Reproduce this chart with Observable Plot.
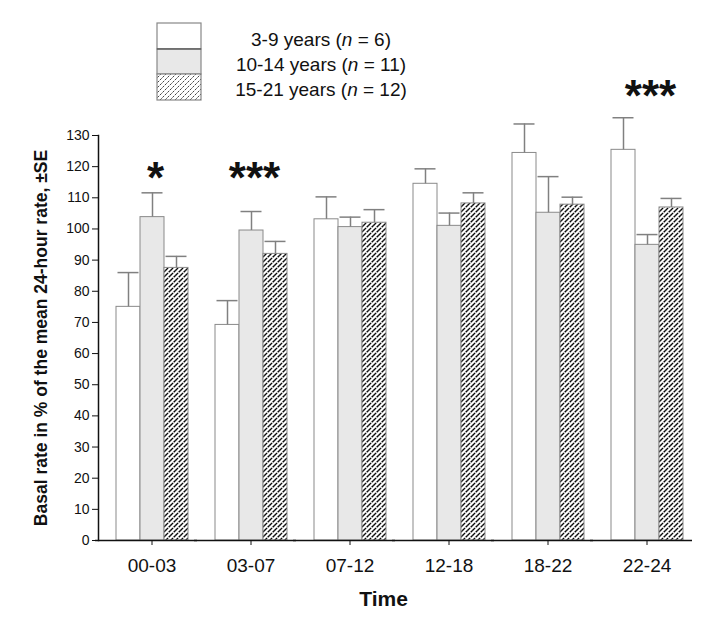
<!DOCTYPE html>
<html>
<head>
<meta charset="utf-8">
<script src="https://cdn.jsdelivr.net/npm/d3@7"></script>
<script src="https://cdn.jsdelivr.net/npm/@observablehq/plot@0.6"></script>
<style>
  body { margin: 0; background: #fff; }
  #wrap { position: relative; width: 724px; height: 623px; font-family: "Liberation Sans", Arial, sans-serif; }
  #chart { position: absolute; left: 0; top: 0; }
  #legend { position: absolute; left: 0; top: 0; }
  #chart g[aria-label="y-axis label"] text { font-weight: bold; font-size: 17.5px; }
  #chart g[aria-label="fx-axis label"] text { font-weight: bold; font-size: 21px; translate: -12px 0; }
  #chart g[aria-label="stars"] text { letter-spacing: 7px; }
</style>
</head>
<body>
<div id="wrap">
  <div id="chart"></div>
  <svg id="legend" width="724" height="110">
    <defs>
      <pattern id="hatch" patternUnits="userSpaceOnUse" width="5" height="5">
        <rect width="5" height="5" fill="#ffffff"></rect>
        <path d="M-1,1 l2,-2 M0,5 l5,-5 M4,6 l2,-2" stroke="#0a0a0a" stroke-width="1.4" stroke-dasharray="3 0.8"></path>
      </pattern>
      <pattern id="hatchLight" patternUnits="userSpaceOnUse" width="5" height="5">
        <rect width="5" height="5" fill="#ffffff"></rect>
        <path d="M-1,1 l2,-2 M0,5 l5,-5 M4,6 l2,-2" stroke="#444" stroke-width="1" stroke-dasharray="2.4 1"></path>
      </pattern>
    </defs>
  </svg>
</div>
<script>
// ---- data ----
const times = ["00-03", "03-07", "07-12", "12-18", "18-22", "22-24"];
const groups = ["3-9 years", "10-14 years", "15-21 years"];
const groupN = [6, 11, 12];

const mean39   = [75.0, 69.2, 103.1, 114.5, 124.4, 125.4];
const se39     = [11.0,  7.8,   7.2,   4.8,   9.3,  10.3];
const mean1014 = [103.8, 99.5, 100.6, 101.0, 105.2, 94.9];
const se1014   = [  7.8,  6.1,   3.2,   4.1,  11.6,  3.3];
const mean1521 = [87.5, 92.0, 102.0, 108.2, 107.8, 106.9];
const se1521   = [ 3.7,  4.0,   4.2,   3.4,   2.4,   2.9];

const yTicks = [0, 10, 20, 30, 40, 50, 60, 70, 80, 90, 100, 110, 120, 130];

const starTimes  = ["00-03", "03-07", "22-24"];
const starLabels = ["*", "***", "***"];
const starY      = [116, 116, 142.5];

const yTitle = "Basal rate in % of the mean 24-hour rate, ±SE";
const xTitle = "Time";

// ---- tables ----
const means = [mean39, mean1014, mean1521];
const ses = [se39, se1014, se1521];
const rows = [];
times.forEach((t, i) => {
  groups.forEach((g, k) => rows.push({time: t, group: g, value: means[k][i], se: ses[k][i]}));
});
const stars = starTimes.map((t, i) => ({time: t, label: starLabels[i], y: starY[i]}));

const chart = Plot.plot({
  width: 724,
  height: 623,
  marginLeft: 97,
  marginRight: 31,
  marginTop: 135,
  marginBottom: 83,
  style: {fontFamily: "'Liberation Sans', Arial, sans-serif", color: "#111"},
  fx: {domain: times, padding: 0, axis: null},
  x: {domain: groups, paddingInner: 0, paddingOuter: 0.535, align: 0.654, axis: null},
  y: {domain: [0, 130], axis: null},
  color: {domain: groups, range: ["#ffffff", "#e8e8e8", "url(#hatch)"]},
  marks: [
    Plot.barY(rows, {fx: "time", x: "group", y: "value", fill: "group", stroke: "#8a8a8a", strokeWidth: 1}),
    Plot.ruleX(rows, {fx: "time", x: "group", y1: "value", y2: d => d.value + d.se, stroke: "#808080", strokeWidth: 1.5}),
    Plot.tickY(rows, {fx: "time", x: "group", y: d => d.value + d.se, stroke: "#808080", strokeWidth: 1.5, insetLeft: 1.5, insetRight: 1.5}),
    Plot.ruleY([0], {stroke: "#111", strokeWidth: 1.5, insetLeft: -3}),
    Plot.frame({anchor: "left", facetAnchor: "left", stroke: "#111", strokeWidth: 1.5}),
    Plot.axisY({ticks: yTicks, tickSize: 6, tickPadding: 3, fontSize: 14, color: "#111",
      label: yTitle, labelAnchor: "center", labelOffset: 64, labelArrow: "none"}),
    Plot.axisFx({anchor: "bottom", tickSize: 5, tickPadding: 13, fontSize: 19, dx: 4, color: "#111",
      label: xTitle, labelAnchor: "center", labelOffset: 65, labelArrow: "none"}),
    Plot.text(stars, {fx: "time", y: "y", text: "label", fontSize: 44, fontWeight: "bold", dx: 7.5, fill: "#111", ariaLabel: "stars"})
  ]
});
document.getElementById("chart").appendChild(chart);

// ---- legend ----
const leg = d3.select("#legend");
const swatchFill = ["#ffffff", "#e8e8e8", "url(#hatchLight)"];
const boxY = [23, 49, 74];
const boxH = [26, 25, 26];
const textY = [46, 71, 96];
groups.forEach((g, k) => {
  leg.append("rect").attr("x", 157).attr("y", boxY[k]).attr("width", 44).attr("height", boxH[k])
    .attr("fill", swatchFill[k]).attr("stroke", "#888").attr("stroke-width", 1.2);
  const t = leg.append("text").attr("x", 321).attr("y", textY[k]).attr("text-anchor", "middle")
    .attr("font-size", 19).attr("fill", "#111").attr("font-family", "'Liberation Sans', Arial, sans-serif");
  t.append("tspan").text(g + " (");
  t.append("tspan").attr("font-style", "italic").text("n");
  t.append("tspan").text(" = " + groupN[k] + ")");
});
leg.append("line").attr("x1", 157).attr("x2", 201).attr("y1", 49).attr("y2", 49).attr("stroke", "#444").attr("stroke-width", 1.2);
</script>
</body>
</html>
